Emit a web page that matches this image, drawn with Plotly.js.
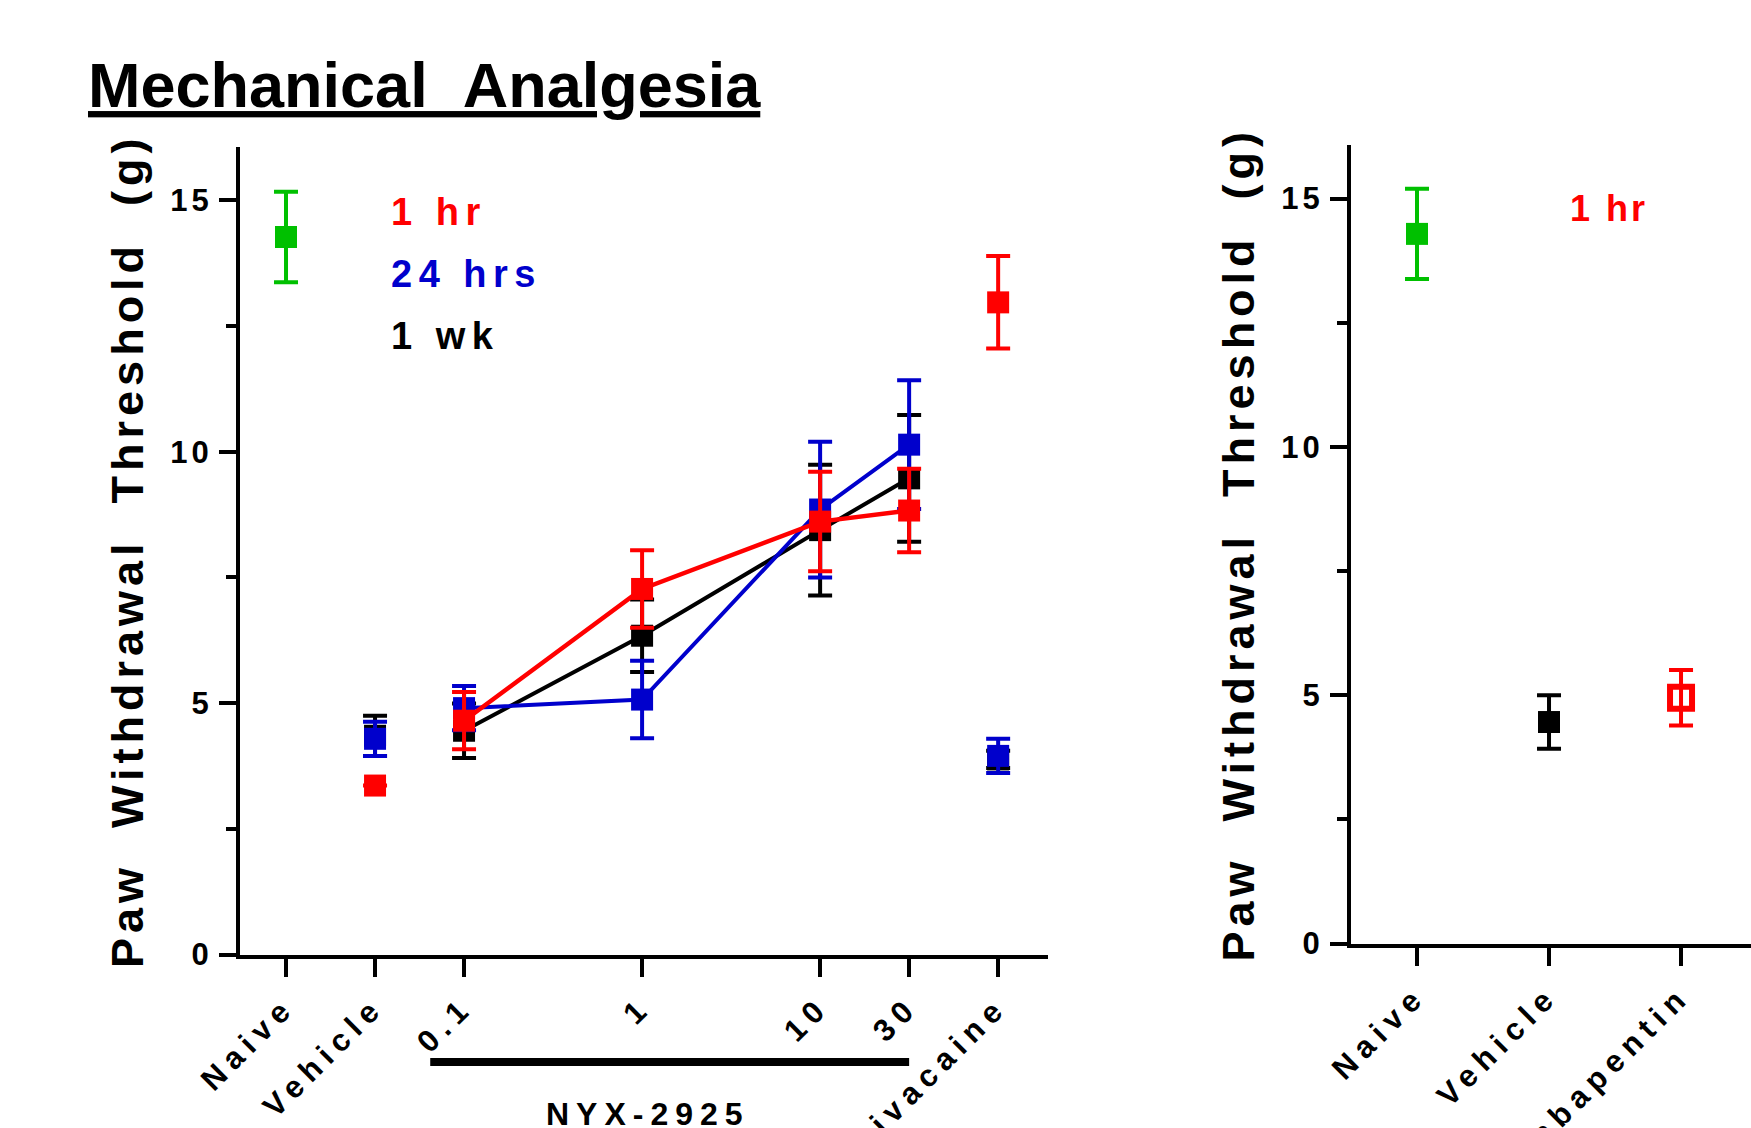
<!DOCTYPE html>
<html>
<head>
<meta charset="utf-8">
<script src="https://cdn.plot.ly/plotly-3.0.1.min.js"></script>
<style>
  html, body { margin: 0; padding: 0; background: #fff; }
  #chart { width: 1751px; height: 1128px; }
</style>
</head>
<body>
<div id="chart"></div>
<script>
// ---------- data ----------
const leftCats  = ['Naive', 'Vehicle', '0.1', '1', '10', '30', 'Bupivacaine'];
const leftSlots = [0, 1, 2, 4, 6, 7, 8];          // category order on the left axis
const doseCats  = ['0.1', '1', '10', '30'];
const ctrlCats  = ['Vehicle', 'Bupivacaine'];

const naiveMean = [14.27];
const naiveSD   = [0.90];

const hr1Dose     = [4.65, 7.27, 8.61, 8.83];
const hr1DoseSD   = [0.57, 0.77, 0.99, 0.83];
const hr1Ctrl     = [3.36, 12.97];
const hr1CtrlSD   = [null, 0.92];

const hr24Dose    = [4.90, 5.07, 8.85, 10.14];
const hr24DoseSD  = [0.44, 0.77, 1.35, 1.28];
const hr24Ctrl    = [4.29, 3.95];
const hr24CtrlSD  = [0.34, 0.34];

const wk1Dose     = [4.45, 6.34, 8.44, 9.47];
const wk1DoseSD   = [0.54, 0.72, 1.30, 1.26];
const wk1Ctrl     = [4.35, 3.88];
const wk1CtrlSD   = [0.40, 0.17];

const rightCats   = ['Naive', 'Vehicle', 'Gabapentin'];
const rightSlots  = [0, 1, 2];
const rightMeans  = [14.29, 4.46, 4.95];
const rightSD     = [0.91, 0.54, 0.56];

const yTickVals   = [0, 5, 10, 15];
const yTickText   = ['0', '5', '10', '15'];

// ---------- helpers ----------
const FONT = 'Liberation Sans, Arial, Helvetica, sans-serif';
const RED = '#FF0000', BLUE = '#0000CC', BLACK = '#000000', GREEN = '#00C000';
const sp = (t, ls) => `<span style="letter-spacing:${ls}px">${t}</span>`;
const slotOf = (cat) => leftSlots[leftCats.indexOf(cat)];
const W = 1751, H = 1128;
const px2x = (p) => p / W;
const px2y = (p) => 1 - p / H;

function errTrace(xs, ys, sd, color, opts) {
  return Object.assign({
    type: 'scatter',
    x: xs, y: ys,
    mode: 'markers',
    marker: { symbol: 'square', size: 22, color: color, line: { width: 0 } },
    line: { color: color, width: 4.5 },
    error_y: { type: 'data', array: sd, visible: true, thickness: 4, width: 12, color: color },
    hoverinfo: 'x+y',
    showlegend: false,
    cliponaxis: false
  }, opts || {});
}

const doseX = doseCats.map(slotOf);
const ctrlX = ctrlCats.map(slotOf);

const traces = [
  // left panel
  errTrace([slotOf('Naive')], naiveMean, naiveSD, GREEN, { name: 'Naive' }),
  errTrace(ctrlX, wk1Ctrl, wk1CtrlSD, BLACK, { name: '1 wk' }),
  errTrace(doseX, wk1Dose, wk1DoseSD, BLACK, { name: '1 wk', mode: 'lines+markers', line: { color: BLACK, width: 4 } }),
  errTrace(ctrlX, hr24Ctrl, hr24CtrlSD, BLUE, { name: '24 hrs' }),
  errTrace(doseX, hr24Dose, hr24DoseSD, BLUE, { name: '24 hrs', mode: 'lines+markers', line: { color: BLUE, width: 4 } }),
  errTrace(ctrlX, hr1Ctrl, hr1CtrlSD, RED, { name: '1 hr' }),
  errTrace(doseX, hr1Dose, hr1DoseSD, RED, { name: '1 hr', mode: 'lines+markers', line: { color: RED, width: 4.5 } }),
  // right panel
  errTrace([rightSlots[0]], [rightMeans[0]], [rightSD[0]], GREEN, { xaxis: 'x2', yaxis: 'y2', name: 'Naive' }),
  errTrace([rightSlots[1]], [rightMeans[1]], [rightSD[1]], BLACK, { xaxis: 'x2', yaxis: 'y2', name: 'Vehicle' }),
  errTrace([rightSlots[2]], [rightMeans[2]], [rightSD[2]], RED, {
    xaxis: 'x2', yaxis: 'y2', name: 'Gabapentin',
    marker: { symbol: 'square-open', size: 22, color: RED, line: { width: 6, color: RED } }
  })
];

const yTitle = sp('Paw&nbsp;&nbsp;Withdrawal&nbsp;&nbsp;Threshold&nbsp;&nbsp;(g)', 5);

function yAxis(domain, range, anchor) {
  return {
    domain: domain, range: range, anchor: anchor,
    showline: true, linewidth: 4, linecolor: BLACK,
    showgrid: false, zeroline: false,
    ticks: 'outside', ticklen: 17, tickwidth: 4, tickcolor: BLACK,
    tickmode: 'array', tickvals: yTickVals, ticktext: yTickText.map(t => sp(t, 4)),
    tickfont: { family: FONT, size: 31, color: BLACK, weight: 'bold' },
    minor: { dtick: 2.5, tick0: 0, ticks: 'outside', ticklen: 10, tickwidth: 4, tickcolor: BLACK, showgrid: false },
    title: { text: yTitle, font: { family: FONT, size: 45, color: BLACK, weight: 'bold' }, standoff: 14 },
    fixedrange: true
  };
}

function xAxis(domain, range, anchor, vals, labels) {
  return {
    domain: domain, range: range, anchor: anchor,
    showline: true, linewidth: 4, linecolor: BLACK,
    showgrid: false, zeroline: false,
    ticks: 'outside', ticklen: 18, tickwidth: 4, tickcolor: BLACK,
    tickmode: 'array', tickvals: vals, ticktext: labels.map(t => sp(t, 7)),
    tickangle: -45,
    tickfont: { family: FONT, size: 31, color: BLACK, weight: 'bold' },
    fixedrange: true
  };
}

const layout = {
  width: W, height: H,
  margin: { l: 0, r: 0, t: 0, b: 0, pad: 0 },
  paper_bgcolor: '#ffffff', plot_bgcolor: '#ffffff',
  showlegend: false,
  title: {
    text: 'Mechanical&nbsp;&nbsp;Analgesia',
    x: px2x(88), xanchor: 'left', xref: 'container',
    y: px2y(85), yanchor: 'middle', yref: 'container',
    font: { family: FONT, size: 63, color: BLACK, weight: 'bold', lineposition: 'under' }
  },
  xaxis:  xAxis([px2x(240), px2x(1048)], [-0.517, 8.56], 'y', leftSlots, leftCats),
  yaxis:  yAxis([px2y(954.5), px2y(147)], [0, 16.06], 'x'),
  xaxis2: xAxis([px2x(1351), 1], [-0.5, 2.53], 'y2', rightSlots, rightCats),
  yaxis2: yAxis([px2y(943.5), px2y(145)], [0, 16.08], 'x2'),
  shapes: [
    { type: 'line', xref: 'x', yref: 'paper',
      x0: slotOf('0.1') - 0.38, x1: slotOf('30'),
      y0: px2y(1062), y1: px2y(1062),
      line: { color: BLACK, width: 8 } }
  ],
  annotations: [
    { text: sp('1 hr', 6.5), xref: 'paper', yref: 'paper', x: px2x(389), y: px2y(212),
      xanchor: 'left', yanchor: 'middle', showarrow: false,
      font: { family: FONT, size: 38, color: RED, weight: 'bold' } },
    { text: sp('24 hrs', 6.5), xref: 'paper', yref: 'paper', x: px2x(389), y: px2y(274),
      xanchor: 'left', yanchor: 'middle', showarrow: false,
      font: { family: FONT, size: 38, color: BLUE, weight: 'bold' } },
    { text: sp('1 wk', 6.5), xref: 'paper', yref: 'paper', x: px2x(389), y: px2y(336),
      xanchor: 'left', yanchor: 'middle', showarrow: false,
      font: { family: FONT, size: 38, color: BLACK, weight: 'bold' } },
    { text: sp('1 hr', 3), xref: 'paper', yref: 'paper', x: px2x(1568), y: px2y(208),
      xanchor: 'left', yanchor: 'middle', showarrow: false,
      font: { family: FONT, size: 36, color: RED, weight: 'bold' } },
    { text: sp('NYX-2925', 7), xref: 'paper', yref: 'paper', x: px2x(648), y: px2y(1094),
      xanchor: 'center', yanchor: 'top', showarrow: false,
      font: { family: FONT, size: 32, color: BLACK, weight: 'bold' } }
  ]
};

Plotly.newPlot('chart', traces, layout, { displayModeBar: false, staticPlot: true });
</script>
</body>
</html>
